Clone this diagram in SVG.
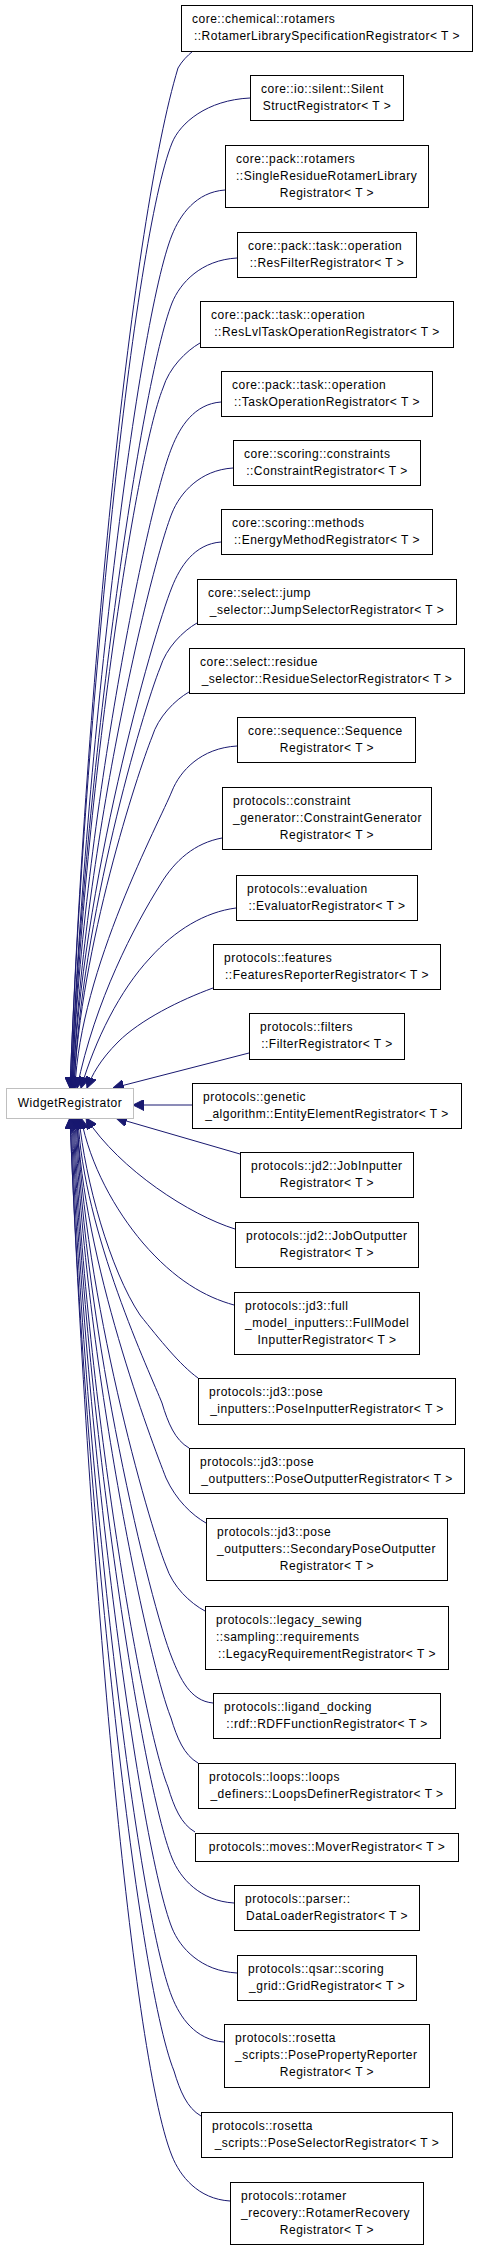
<svg xmlns="http://www.w3.org/2000/svg" width="477" height="2251" viewBox="0 0 477 2251">
<style>
.node rect{fill:#fff;stroke:#000;stroke-width:1}
#widget rect{fill:#fff;stroke:#bfbfbf;stroke-width:1}
text{font-family:"Liberation Sans",Arial,Helvetica,sans-serif;font-size:12px;letter-spacing:0.5px;fill:#000}
text.c{text-anchor:middle}
#edges path{fill:none;stroke:#191970;stroke-width:1;marker-end:url(#ah)}
</style>
<defs>
<marker id="ah" viewBox="0 0 11 11" refX="11" refY="5.5" markerWidth="11" markerHeight="11" markerUnits="userSpaceOnUse" orient="auto">
<path d="M0,0 L11,5.5 L0,11 z" fill="#191970" stroke="#191970" stroke-width="1"/>
</marker>
</defs>
<rect width="477" height="2251" fill="#fff"/>
<g id="edges">
<path d="M193,51 C187,56 182,61 178,68 C132,221 86,680 70,1088"/>
<path d="M250,98 C207,100 180,123 172,143 C134,238 85,710 70,1088"/>
<path d="M225,190 C196,192 180,215 172,235 C138,320 85,747 71,1088"/>
<path d="M237,258 C201,260 180,283 172,303 C141,382 84,774 71,1088"/>
<path d="M200,343 C186,351 169,368 163,388 C135,458 83,808 72,1088"/>
<path d="M221,402 C194,404 180,427 172,447 C146,511 82,832 72,1088"/>
<path d="M233,468 C200,470 180,493 172,513 C149,571 82,858 73,1088"/>
<path d="M221,542 C194,544 180,567 172,587 C152,637 81,888 73,1088"/>
<path d="M197,623 C183,631 166,648 160,668 C143,710 81,920 74,1088"/>
<path d="M189,692 C175,700 158,717 152,737 C138,772 80,948 74,1088"/>
<path d="M237,746 C201,748 180,771 172,791 C160,821 80,969 75,1088"/>
<path d="M222,838 C195,843 175,860 160,885 C135,925 95,1000 77,1088"/>
<path d="M236,908 C205,912 175,930 150,958 C120,990 95,1040 81,1088"/>
<path d="M213,988 C180,1000 140,1020 118,1042 C100,1060 92,1075 87,1088"/>
<path d="M249,1053 L113,1088"/>
<path d="M192,1105 L133,1105"/>
<path d="M240,1154 L116,1118"/>
<path d="M235,1229 C190,1215 120,1170 86,1118"/>
<path d="M234,1305 C205,1297 175,1280 143,1243 C115,1210 90,1165 81,1118"/>
<path d="M198,1378 C180,1365 160,1340 140,1315 C110,1270 85,1180 79,1118"/>
<path d="M189,1448 C175,1440 168,1423 162,1403 C151,1375 83,1232 78,1118"/>
<path d="M206,1523 C192,1515 176,1500 166,1478 C152,1442 83,1262 77,1118"/>
<path d="M205,1611 C190,1603 173,1587 166,1566 C148,1521 84,1297 77,1118"/>
<path d="M213,1703 C190,1701 180,1678 172,1658 C150,1604 85,1334 76,1118"/>
<path d="M198,1763 C184,1755 177,1738 171,1718 C147,1658 85,1358 75,1118"/>
<path d="M195,1832 C181,1824 174,1807 168,1787 C141,1720 85,1386 74,1118"/>
<path d="M234,1903 C200,1901 180,1878 172,1858 C142,1784 85,1414 73,1118"/>
<path d="M237,1973 C201,1971 180,1948 172,1928 C140,1847 85,1442 72,1118"/>
<path d="M224,2042 C195,2040 180,2017 172,1997 C137,1909 85,1470 71,1118"/>
<path d="M201,2116 C187,2108 180,2091 174,2071 C136,1976 85,1499 70,1118"/>
<path d="M230,2201 C198,2199 180,2176 172,2156 C130,2052 87,1533 70,1118"/>
</g>
<g id="widget"><rect x="6.5" y="1088.5" width="127" height="30"/><text class="c" x="70" y="1107">WidgetRegistrator</text></g>
<g id="n1" class="node"><rect x="181.5" y="5.5" width="291" height="46"/><text x="192" y="23">core::chemical::rotamers</text><text class="c" x="327" y="40">::RotamerLibrarySpecificationRegistrator&lt; T &gt;</text></g>
<g id="n2" class="node"><rect x="250.5" y="75.5" width="153" height="45"/><text x="261" y="93">core::io::silent::Silent</text><text class="c" x="327" y="110">StructRegistrator&lt; T &gt;</text></g>
<g id="n3" class="node"><rect x="225.5" y="145.5" width="203" height="62"/><text x="236" y="163">core::pack::rotamers</text><text x="236" y="180">::SingleResidueRotamerLibrary</text><text class="c" x="327" y="197">Registrator&lt; T &gt;</text></g>
<g id="n4" class="node"><rect x="237.5" y="232.5" width="179" height="45"/><text x="248" y="250">core::pack::task::operation</text><text class="c" x="327" y="267">::ResFilterRegistrator&lt; T &gt;</text></g>
<g id="n5" class="node"><rect x="200.5" y="301.5" width="253" height="46"/><text x="211" y="319">core::pack::task::operation</text><text class="c" x="327" y="336">::ResLvlTaskOperationRegistrator&lt; T &gt;</text></g>
<g id="n6" class="node"><rect x="221.5" y="371.5" width="211" height="45"/><text x="232" y="389">core::pack::task::operation</text><text class="c" x="327" y="406">::TaskOperationRegistrator&lt; T &gt;</text></g>
<g id="n7" class="node"><rect x="233.5" y="440.5" width="187" height="45"/><text x="244" y="458">core::scoring::constraints</text><text class="c" x="327" y="475">::ConstraintRegistrator&lt; T &gt;</text></g>
<g id="n8" class="node"><rect x="221.5" y="509.5" width="211" height="45"/><text x="232" y="527">core::scoring::methods</text><text class="c" x="327" y="544">::EnergyMethodRegistrator&lt; T &gt;</text></g>
<g id="n9" class="node"><rect x="197.5" y="579.5" width="259" height="45"/><text x="208" y="597">core::select::jump</text><text class="c" x="327" y="614">_selector::JumpSelectorRegistrator&lt; T &gt;</text></g>
<g id="n10" class="node"><rect x="189.5" y="648.5" width="275" height="45"/><text x="200" y="666">core::select::residue</text><text class="c" x="327" y="683">_selector::ResidueSelectorRegistrator&lt; T &gt;</text></g>
<g id="n11" class="node"><rect x="237.5" y="717.5" width="178" height="45"/><text x="248" y="735">core::sequence::Sequence</text><text class="c" x="327" y="752">Registrator&lt; T &gt;</text></g>
<g id="n12" class="node"><rect x="222.5" y="787.5" width="209" height="62"/><text x="233" y="805">protocols::constraint</text><text x="233" y="822">_generator::ConstraintGenerator</text><text class="c" x="327" y="839">Registrator&lt; T &gt;</text></g>
<g id="n13" class="node"><rect x="236.5" y="875.5" width="181" height="45"/><text x="247" y="893">protocols::evaluation</text><text class="c" x="327" y="910">::EvaluatorRegistrator&lt; T &gt;</text></g>
<g id="n14" class="node"><rect x="213.5" y="944.5" width="227" height="45"/><text x="224" y="962">protocols::features</text><text class="c" x="327" y="979">::FeaturesReporterRegistrator&lt; T &gt;</text></g>
<g id="n15" class="node"><rect x="249.5" y="1013.5" width="155" height="46"/><text x="260" y="1031">protocols::filters</text><text class="c" x="327" y="1048">::FilterRegistrator&lt; T &gt;</text></g>
<g id="n16" class="node"><rect x="192.5" y="1083.5" width="269" height="45"/><text x="203" y="1101">protocols::genetic</text><text class="c" x="327" y="1118">_algorithm::EntityElementRegistrator&lt; T &gt;</text></g>
<g id="n17" class="node"><rect x="240.5" y="1152.5" width="173" height="45"/><text x="251" y="1170">protocols::jd2::JobInputter</text><text class="c" x="327" y="1187">Registrator&lt; T &gt;</text></g>
<g id="n18" class="node"><rect x="235.5" y="1222.5" width="183" height="45"/><text x="246" y="1240">protocols::jd2::JobOutputter</text><text class="c" x="327" y="1257">Registrator&lt; T &gt;</text></g>
<g id="n19" class="node"><rect x="234.5" y="1292.5" width="185" height="62"/><text x="245" y="1310">protocols::jd3::full</text><text x="245" y="1327">_model_inputters::FullModel</text><text class="c" x="327" y="1344">InputterRegistrator&lt; T &gt;</text></g>
<g id="n20" class="node"><rect x="198.5" y="1378.5" width="257" height="46"/><text x="209" y="1396">protocols::jd3::pose</text><text class="c" x="327" y="1413">_inputters::PoseInputterRegistrator&lt; T &gt;</text></g>
<g id="n21" class="node"><rect x="189.5" y="1448.5" width="275" height="45"/><text x="200" y="1466">protocols::jd3::pose</text><text class="c" x="327" y="1483">_outputters::PoseOutputterRegistrator&lt; T &gt;</text></g>
<g id="n22" class="node"><rect x="206.5" y="1518.5" width="241" height="62"/><text x="217" y="1536">protocols::jd3::pose</text><text x="217" y="1553">_outputters::SecondaryPoseOutputter</text><text class="c" x="327" y="1570">Registrator&lt; T &gt;</text></g>
<g id="n23" class="node"><rect x="205.5" y="1606.5" width="243" height="63"/><text x="216" y="1624">protocols::legacy_sewing</text><text x="216" y="1641">::sampling::requirements</text><text class="c" x="327" y="1658">::LegacyRequirementRegistrator&lt; T &gt;</text></g>
<g id="n24" class="node"><rect x="213.5" y="1693.5" width="227" height="45"/><text x="224" y="1711">protocols::ligand_docking</text><text class="c" x="327" y="1728">::rdf::RDFFunctionRegistrator&lt; T &gt;</text></g>
<g id="n25" class="node"><rect x="198.5" y="1763.5" width="257" height="45"/><text x="209" y="1781">protocols::loops::loops</text><text class="c" x="327" y="1798">_definers::LoopsDefinerRegistrator&lt; T &gt;</text></g>
<g id="n26" class="node"><rect x="195.5" y="1833.5" width="263" height="28"/><text class="c" x="327" y="1851">protocols::moves::MoverRegistrator&lt; T &gt;</text></g>
<g id="n27" class="node"><rect x="234.5" y="1885.5" width="185" height="45"/><text x="245" y="1903">protocols::parser::</text><text class="c" x="327" y="1920">DataLoaderRegistrator&lt; T &gt;</text></g>
<g id="n28" class="node"><rect x="237.5" y="1955.5" width="179" height="45"/><text x="248" y="1973">protocols::qsar::scoring</text><text class="c" x="327" y="1990">_grid::GridRegistrator&lt; T &gt;</text></g>
<g id="n29" class="node"><rect x="224.5" y="2024.5" width="205" height="63"/><text x="235" y="2042">protocols::rosetta</text><text x="235" y="2059">_scripts::PosePropertyReporter</text><text class="c" x="327" y="2076">Registrator&lt; T &gt;</text></g>
<g id="n30" class="node"><rect x="201.5" y="2112.5" width="251" height="45"/><text x="212" y="2130">protocols::rosetta</text><text class="c" x="327" y="2147">_scripts::PoseSelectorRegistrator&lt; T &gt;</text></g>
<g id="n31" class="node"><rect x="230.5" y="2182.5" width="193" height="62"/><text x="241" y="2200">protocols::rotamer</text><text x="241" y="2217">_recovery::RotamerRecovery</text><text class="c" x="327" y="2234">Registrator&lt; T &gt;</text></g>
</svg>
